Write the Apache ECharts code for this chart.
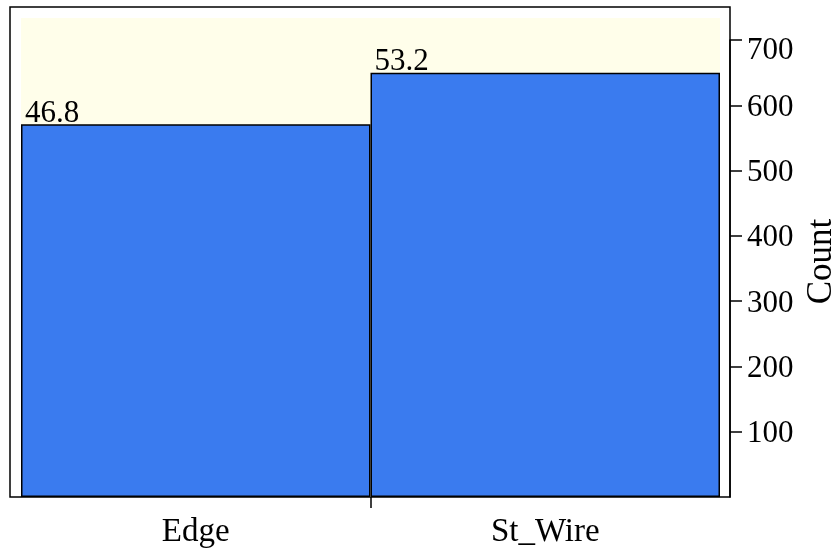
<!DOCTYPE html>
<html><head><meta charset="utf-8">
<script src="https://cdn.jsdelivr.net/npm/echarts@6/dist/echarts.min.js"></script>
<style>html,body{margin:0;padding:0;background:#fff}#c{width:835px;height:554px}</style>
</head><body><div id="c"></div>
<script>
const categories = ['Edge', 'St_Wire'];
const counts = [571, 650];
const yMax = 700;
const yStep = 100;
const xTickPositions = [1];

const total = counts.reduce((a, b) => a + b, 0);
const percents = counts.map(v => (v / total * 100).toFixed(1));

const FONT = 'Liberation Serif';
const G = {outerBoundsMode: 'none', containLabel: false};
const chart = echarts.init(document.getElementById('c'), null, {renderer: 'canvas'});
chart.setOption({
  animation: false,
  backgroundColor: '#ffffff',
  grid: [
    Object.assign({left: 10, right: 105, top: 7, bottom: 57, show: true, borderColor: '#000', borderWidth: 1.5, backgroundColor: 'transparent'}, G),
    Object.assign({left: 21, right: 115, top: 18, bottom: 57, show: true, borderWidth: 0, backgroundColor: '#FFFEEA'}, G),
    Object.assign({left: 21, right: 115, top: 40, bottom: 57, show: false}, G),
    Object.assign({left: 21, right: 105, top: 40, bottom: 57, show: false}, G)
  ],
  xAxis: [
    {gridIndex: 0, type: 'value', show: false},
    {gridIndex: 1, type: 'value', show: false},
    {gridIndex: 2, type: 'category', data: categories, boundaryGap: true, position: 'bottom',
     axisLine: {show: false}, axisTick: {show: false},
     axisLabel: {fontFamily: FONT, fontSize: 33, color: '#000', margin: 19}},
    {gridIndex: 2, type: 'value', min: 0, max: 2, position: 'bottom',
     axisLine: {show: false}, splitLine: {show: false}, axisLabel: {show: false},
     axisTick: {show: true, customValues: xTickPositions, length: 11, lineStyle: {color: '#000', width: 1.5}}},
    {gridIndex: 3, type: 'value', show: false}
  ],
  yAxis: [
    {gridIndex: 0, type: 'value', show: false},
    {gridIndex: 1, type: 'value', show: false},
    {gridIndex: 2, type: 'value', min: 0, max: yMax, show: false},
    {gridIndex: 3, type: 'value', position: 'right', min: 0, max: yMax, interval: yStep,
     splitLine: {show: false},
     axisLine: {show: true, onZero: false, lineStyle: {color: '#000', width: 1.5}},
     axisTick: {show: true, inside: false, length: 12, lineStyle: {color: '#000', width: 1.5}},
     axisLabel: {
       showMinLabel: false, margin: 17, color: '#000', fontFamily: FONT, fontSize: 31,
       formatter: v => (v === yMax ? '{t|' + v + '}' : '{n|' + v + '}'),
       rich: {
         n: {fontFamily: FONT, fontSize: 31, color: '#000', padding: [5, 0, 0, 0]},
         t: {fontFamily: FONT, fontSize: 31, color: '#000', padding: [22, 0, 0, 0]}
       }
     },
     name: 'Count', nameLocation: 'middle', nameRotate: 90, nameGap: 72,
     nameTextStyle: {fontFamily: FONT, fontSize: 35, color: '#000', padding: [0, 0, 0, 14]}
    }
  ],
  series: [{
    type: 'bar', xAxisIndex: 2, yAxisIndex: 2,
    data: counts, barWidth: '100%', barCategoryGap: '0%',
    itemStyle: {color: '#3A7BEF', borderColor: '#000', borderWidth: 1.5},
    label: {
      show: true, position: [4, 5], align: 'left', verticalAlign: 'bottom',
      formatter: p => percents[p.dataIndex],
      fontFamily: FONT, fontSize: 31, color: '#000'
    }
  }]
});
</script>
</body></html>
